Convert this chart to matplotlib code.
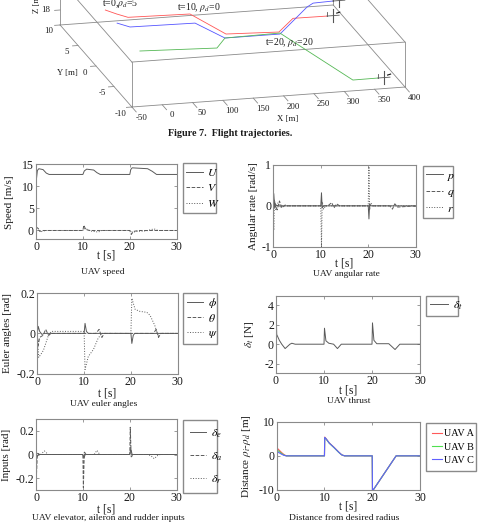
import itertools
import numpy as np
import matplotlib
matplotlib.use('Agg')
import matplotlib.pyplot as plt
from matplotlib.ticker import FormatStrFormatter

plt.rcParams['font.family'] = 'serif'
plt.rcParams['font.serif'] = ['Liberation Serif', 'DejaVu Serif']
plt.rcParams['mathtext.fontset'] = 'stix'
plt.rcParams['axes.unicode_minus'] = False

W, H = 489, 524
GRAY = '#8a8a8a'
LC = '#5a5a5a'
TXT = '#1a1a1a'

# ---------------- 3D trajectories (x, y, z) ----------------
red_x = [-0.3, 11.9, 24.9, 125.4, 154, 238.7, 279, 334.8]
red_y = [5.8, 4.7, 3.75, 3.47, -1.72, -2.15, 0.75, 0.7]
red_z = [20, 20, 20, 20, 20, 20, 20, 20]
blue_x = [0.2, 14.9, 120.9, 147, 237.6, 316, 330.8, 364]
blue_y = [2.6, 1.5, 1.3, -2.62, -2.63, 3.1, 3.9, 4.05]
blue_z = [20, 20, 20, 20, 20, 20, 20, 20]
green_x = [-2.3, 121, 147, 238.9, 240.8, 318.6, 360]
green_y = [-4.17, -4.78, -2.62, -2.4, -2.9, -9.24, -9.2]
green_z = [20, 20, 20, 20, 20, 17, 17]

x3_ticks = [-50, 0, 50, 100, 150, 200, 250, 300, 350, 400]
y3_ticks = [-10, -5, 0, 5, 10]
z3_ticks = [18]

# ---------------- time histories ----------------
t_U = [0, 0.3, 0.6, 1.5, 2.2, 2.8, 10.0, 10.3, 10.8, 12.3, 13.0, 13.7, 20.0, 20.2, 20.5, 23.8, 24.8, 25.7, 30]
U = [10.8, 13.6, 14.0, 13.8, 13.0, 12.7, 12.7, 13.5, 13.9, 13.7, 13.1, 12.7, 12.7, 13.8, 14.2, 14.0, 13.4, 12.7, 12.7]
t_V = [0, 0.2, 0.8, 1.5, 10.0, 10.2, 10.6, 11.5, 20.0, 20.3, 20.8, 22, 30]
V = [0, 0.6, -0.2, 0, 0, 1.2, 0.2, 0, 0, -0.9, -0.2, 0, 0]
t_W = [0, 0.3, 1.0, 2, 10, 10.5, 11.5, 12.5, 13.3, 14, 20, 20.6, 21.5, 22.5, 23.5, 24.5, 25.2, 26, 30]
Wv = [0, 0.8, -0.3, 0, 0, 0.5, -0.1, -0.25, -0.35, 0, 0, -0.4, -0.2, -0.15, -0.1, 0.2, 0.35, 0, 0]

t_p = [0, 0.1, 0.3, 0.6, 1, 10.0, 10.15, 10.3, 10.6, 20.0, 20.15, 20.3, 20.6, 30]
p = [0, 0.3, -0.05, 0.02, 0, 0, 0.32, -0.05, 0, 0, -0.32, 0.05, 0, 0]
t_q = [0, 0.3, 0.8, 1.3, 1.8, 2.5, 3, 11.5, 12.3, 12.8, 13.3, 14, 24.5, 25.1, 25.6, 26.2, 30]
q = [0, 0.1, -0.1, 0.12, -0.05, 0.02, 0, 0, 0.08, -0.05, 0.05, 0, 0, -0.08, 0.05, -0.03, 0]
t_r = [0, 0.1, 0.25, 0.5, 1.0, 1.5, 2.0, 10.0, 10.15, 10.3, 10.6, 11, 20.0, 20.15, 20.3, 20.6, 21, 30]
r = [0, -0.6, 0.15, -0.1, 0.08, -0.03, 0, 0, -1.0, 0.1, -0.08, 0, 0, 0.96, -0.1, 0.06, 0, 0]

t_phi = [0, 0.2, 0.5, 1.0, 1.5, 2.0, 10.0, 10.2, 10.5, 10.9, 20.0, 20.2, 20.5, 20.8, 30]
phi = [0, 0.035, 0.01, -0.005, 0, 0, 0, 0.05, 0.01, 0, 0, -0.05, -0.01, 0, 0]
t_theta = [0, 0.2, 0.5, 1.2, 1.8, 2.4, 3, 12.5, 13.2, 13.8, 14.3, 24.8, 25.4, 25.9, 26.4, 30]
theta = [0, -0.06, -0.02, -0.01, 0.02, -0.01, 0, 0, 0.02, -0.02, 0, 0, 0.02, -0.02, 0, 0]
t_psi = [0, 0.3, 1.3, 2.3, 3, 10.0, 10.2, 10.9, 12.0, 13.0, 13.8, 14.5, 20.0, 20.2, 20.9, 21.9, 23.4, 24.1, 25.1, 25.5, 25.8, 26.3, 30]
psi = [0, -0.12, -0.085, -0.015, 0.01, 0.01, -0.18, -0.115, -0.08, -0.024, 0, 0, 0, 0.175, 0.12, 0.11, 0.105, 0.09, 0.04, 0.01, -0.01, 0, 0]

t_dt = [0, 0.15, 0.7, 1.2, 1.9, 2.9, 3.3, 4, 10.0, 10.1, 10.4, 11.0, 12.0, 12.8, 13.6, 20.0, 20.1, 20.4, 21.0, 23.5, 24.8, 25.8, 30]
dt = [4.0, 1.0, 0.4, 0.0, -0.45, 0.0, 0.1, 0.0, 0.0, 1.65, 0.35, 0.1, 0.0, -0.45, 0.0, 0.0, 2.2, 0.4, 0.05, 0.05, -0.55, 0.0, 0.0]

t_de = [0, 0.2, 0.5, 10.0, 10.2, 10.5, 20.0, 20.2, 20.5, 30]
de = [0, -0.02, 0, 0, -0.03, 0, 0, 0.05, 0, 0]
t_da = [0, 0.1, 0.3, 0.8, 10.0, 10.1, 10.3, 10.8, 20.0, 20.1, 20.3, 20.8, 30]
da = [0, -0.17, 0.01, 0, 0, -0.28, 0.02, 0, 0, 0.23, -0.02, 0, 0]
t_dr = [0, 0.3, 1.0, 1.8, 2.6, 3.2, 11.8, 12.4, 13.0, 13.6, 14.2, 23.8, 24.5, 25.2, 25.9, 26.5, 30]
dr = [0, 0.01, 0.0, 0.03, 0.0, 0, 0, 0.0, 0.035, 0.0, 0, 0, -0.01, -0.035, -0.01, 0, 0]

t_rho = [0, 0.5, 1.0, 1.5, 2.0, 10.0, 10.05, 10.3, 11, 12, 13, 13.6, 14.2, 20.0, 20.05, 20.2, 25.0, 30]
rho_A = [2.4, 1.7, 1.0, 0.4, 0, 0, 5.5, 5.1, 3.8, 2.5, 1.1, 0.3, 0, 0, -10, -10, 0, 0]
rho_B = [1.8, 1.3, 0.7, 0.25, 0, 0, 5.3, 5.0, 3.7, 2.4, 1.0, 0.3, 0, 0, -10, -10, 0, 0]
rho_C = [1.4, 0.9, 0.5, 0.15, 0, 0, 5.4, 5.05, 3.75, 2.45, 1.05, 0.3, 0, 0, -10, -10, 0, 0]

fig = plt.figure(figsize=(W / 100, H / 100), dpi=100)


def rect(l, t, r_, b):
    return [l / W, 1 - b / H, (r_ - l) / W, (b - t) / H]


def ftext(x, y, s, **kw):
    kw.setdefault('color', TXT)
    fig.text(x / W, 1 - y / H, s, **kw)


# ---------------- 3D plot ----------------
ax3 = fig.add_axes([0, 0, 0.5, 0.5 * W / H], projection='3d', proj_type='ortho')
xl, yl, zl = (-50, 400), (-10, 10), (16, 22)
ax3.set_xlim(*xl)
ax3.set_ylim(*yl)
ax3.set_zlim(*zl)
ax3.view_init(elev=16.8, azim=-104.2)
ax3.set_box_aspect((282, 293, 47))
ax3.set_axis_off()
ax3.patch.set_alpha(0)

# put the box corners where they sit in the reference picture
M = ax3.get_proj()


def proj(x, y, z):
    v = M @ np.array([x, y, z, 1.0])
    return v[0] / v[3], v[1] / v[3]


corners = [(-50, -10, 16), (400, -10, 16), (-50, 10, 16)]
targets = [(132, 107), (405, 87), (60, 25)]
A, bv = [], []
for c, (tx, ty) in zip(corners, targets):
    px, py = proj(*c)
    A.append([px, 1, 0]); bv.append(tx)
    A.append([py, 0, 1]); bv.append(H - ty)
s, ox, oy = np.linalg.lstsq(np.array(A), np.array(bv), rcond=None)[0]
vx0, vx1 = ax3.viewLim.intervalx
vy0, vy1 = ax3.viewLim.intervaly
ax3.set_position([(ox + s * vx0) / W, (oy + s * vy0) / H,
                  s * (vx1 - vx0) / W, s * (vy1 - vy0) / H])

# box edges
pts = list(itertools.product(xl, yl, zl))
for a, b in itertools.combinations(pts, 2):
    if sum(ai != bi for ai, bi in zip(a, b)) == 1:
        ax3.plot([a[0], b[0]], [a[1], b[1]], [a[2], b[2]], color=GRAY, lw=0.6)

for xt in x3_ticks:
    ax3.plot([xt, xt], [-10, -11.2], [16, 16], color=GRAY, lw=0.6)
    ax3.text(xt, -12.6, 16, str(xt), ha='center', va='center', fontsize=6.3, color=TXT)
for yt in y3_ticks:
    ax3.plot([-50, -59], [yt, yt], [16, 16], color=GRAY, lw=0.6)
    ax3.text(-76.6, yt - 1.3, 16, str(yt), ha='center', va='center', fontsize=6.3, color=TXT)
for zt in z3_ticks:
    ax3.plot([-50, -59], [10, 10], [zt, zt], color=GRAY, lw=0.6)
    ax3.text(-72, 10.2, zt, str(zt), ha='center', va='center', fontsize=6.3, color=TXT)

for xs, ys, zs, col in [(red_x, red_y, red_z, '#ff5555'),
                        (blue_x, blue_y, blue_z, '#5555ff'),
                        (green_x, green_y, green_z, '#55b855')]:
    ax3.plot(xs, ys, zs, color=col, lw=0.6)
    xe, ye, ze = xs[-1], ys[-1], zs[-1]
    # small UAV glyph at the end of the track
    ax3.plot([xe, xe + 20], [ye, ye], [ze, ze], color='#555555', lw=0.6)
    ax3.plot([xe + 10, xe + 10], [ye, ye], [ze - 0.9, ze + 0.9], color='#555555', lw=0.8)
    ax3.plot([xe, xe], [ye, ye], [ze, ze + 0.5], color='#555555', lw=0.6)
    ax3.plot([xe + 16, xe + 21], [ye, ye], [ze + 0.3, ze + 0.4], color='#111111', lw=0.8)

ftext(102, 5.5, r't=0,$\rho_d$=5', fontsize=7, va='baseline')
ftext(177, 9.5, r't=10, $\rho_d$=0', fontsize=7, va='baseline')
ftext(265, 45, r't=20, $\rho_d$=20', fontsize=7, va='baseline')
ftext(67, 73, 'Y [m]', fontsize=6.3, ha='center', va='center')
ftext(288, 119, 'X [m]', fontsize=6.3, ha='center', va='center')
ftext(37, 3, 'Z [m]', fontsize=6.3, ha='center', va='center', rotation=90)
ftext(230, 136, 'Figure 7.  Flight trajectories.', fontsize=7.3, fontweight='bold',
      ha='center', va='baseline')


# ---------------- 2D panels ----------------
def panel(box, ylim, yticks, ylabel, xlab_y, ylab_x, title, title_xy):
    ax = fig.add_axes(rect(*box))
    ax.set_xlim(0, 30)
    ax.set_ylim(*ylim)
    ax.set_xticks([0, 10, 20, 30])
    ax.set_yticks(yticks)
    ax.yaxis.set_major_formatter(FormatStrFormatter('%g'))
    for sp in ax.spines.values():
        sp.set_color(GRAY)
        sp.set_linewidth(0.8)
    ax.tick_params(direction='in', length=2.5, width=0.6, color=GRAY, labelsize=8.5,
                   labelcolor=TXT, pad=1.5, top=True, right=True)
    l, t, r_, b = box
    ax.set_xlabel('t [s]', fontsize=8.3, va='center', color=TXT)
    ax.set_ylabel(ylabel, fontsize=8, va='center', color=TXT)
    ax.xaxis.set_label_coords(0.5, (b - xlab_y) / (b - t))
    ax.yaxis.set_label_coords((ylab_x - l) / (r_ - l), 0.5)
    ftext(title_xy[0], title_xy[1], title, fontsize=6.8, ha='center', va='center')
    return ax


def legend(ax, lines, labels, box, fs, spacing, hl=1.4, bpad=0.3, tpad=0.4):
    l, t, r_, b = box
    ax.legend(lines, labels, loc='upper left', bbox_to_anchor=(l / W, 1 - t / H, (r_ - l) / W, 0),
              bbox_transform=fig.transFigure, mode='expand', borderaxespad=0, fancybox=False,
              edgecolor=GRAY, framealpha=1, fontsize=fs, handlelength=hl, handletextpad=tpad,
              labelspacing=spacing, borderpad=bpad)


kw = dict(color=LC, lw=0.7)

b1 = (36, 164.3, 176.7, 239.3)
ax1 = panel(b1, (-2, 15), [0, 5, 10, 15], 'Speed [m/s]', 256, 10, 'UAV speed', (102.5, 272))
l1 = ax1.plot(t_U, U, '-', **kw)[0]
l2 = ax1.plot(t_V, V, '--', **kw)[0]
l3 = ax1.plot(t_W, Wv, ':', **kw)[0]
legend(ax1, [l1, l2, l3], ['$U$', '$V$', '$W$'], (182.7, 163.3, 216, 209), 8.5, 0.3)

b2 = (273.3, 165, 415.7, 246.7)
ax2 = panel(b2, (-1, 1), [-1, 0, 1], 'Angular rate [rad/s]', 263.5, 253.3, 'UAV angular rate', (346.7, 274.5))
l1 = ax2.plot(t_p, p, '-', **kw)[0]
l2 = ax2.plot(t_q, q, '--', **kw)[0]
l3 = ax2.plot(t_r, r, ':', **kw)[0]
legend(ax2, [l1, l2, l3], ['$p$', '$q$', '$r$'], (422.7, 166, 452.7, 211.7), 8.5, 0.3)

b3 = (37.3, 293.3, 177.7, 373.5)
ax3b = panel(b3, (-0.2, 0.2), [-0.2, 0, 0.2], 'Euler angles [rad]', 393.3, 8, 'UAV euler angles', (104, 404))
l1 = ax3b.plot(t_phi, phi, '-', **kw)[0]
l2 = ax3b.plot(t_theta, theta, '--', **kw)[0]
l3 = ax3b.plot(t_psi, psi, ':', **kw)[0]
legend(ax3b, [l1, l2, l3], [r'$\phi$', r'$\theta$', r'$\psi$'], (183, 292.7, 217, 341.7), 8.5, 0.2)

b4 = (276, 295.7, 420, 373.3)
ax4 = panel(b4, (-3, 5), [-2, 0, 2, 4], r'$\delta_t$ [N]', 390.7, 250, 'UAV thrust', (349, 401))
l1 = ax4.plot(t_dt, dt, '-', **kw)[0]
legend(ax4, [l1], [r'$\delta_t$'], (426, 296, 458.3, 318.3), 8.5, 0.3, hl=1.6)

b5 = (36, 419, 176.7, 490)
ax5 = panel(b5, (-0.3, 0.3), [-0.2, 0, 0.2], 'Inputs [rad]', 509, 7,
            'UAV elevator, aileron and rudder inputs', (108, 518.5))
l1 = ax5.plot(t_de, de, '-', **kw)[0]
l2 = ax5.plot(t_da, da, '--', **kw)[0]
l3 = ax5.plot(t_dr, dr, ':', **kw)[0]
legend(ax5, [l1, l2, l3], [r'$\delta_e$', r'$\delta_a$', r'$\delta_r$'], (182.7, 420, 216.7, 490), 8.5, 0.9,
       bpad=0.6)

b6 = (276.7, 421.7, 420, 490)
ax6 = panel(b6, (-10, 10), [-10, 0, 10], r'Distance $\rho_i$-$\rho_d$ [m]', 506.7, 246.7,
            'Distance from desired radius', (344, 518.5))
l1 = ax6.plot(t_rho, rho_A, color='#ff5a5a', lw=0.8)[0]
l2 = ax6.plot(t_rho, rho_B, color='#50e050', lw=0.8)[0]
l3 = ax6.plot(t_rho, rho_C, color='#6060ff', lw=0.8)[0]
legend(ax6, [l1, l2, l3], ['UAV A', 'UAV B', 'UAV C'], (425.7, 423.3, 476, 470), 7.3, 0.4,
       hl=1.0, bpad=0.6, tpad=0.2)

fig.savefig('out.png', dpi=100)
